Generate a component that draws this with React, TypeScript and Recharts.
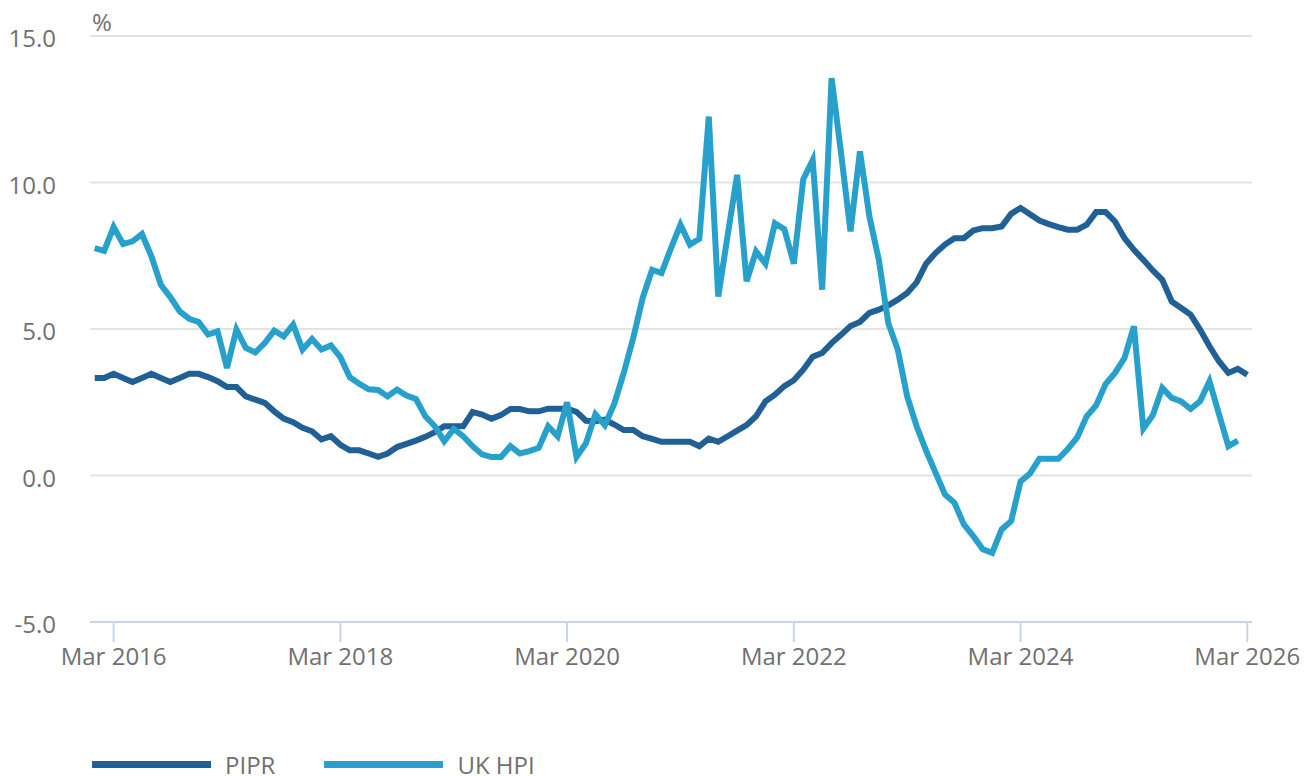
import { LineChart, Line, XAxis, YAxis, CartesianGrid, Legend } from "recharts";

// monthly, Jan 2016 onwards
const PIPR = [
    3.33, 3.33, 3.47, 3.33, 3.19, 3.33, 3.47, 3.33, 3.19, 3.33, 3.47, 3.47,
    3.36, 3.22, 3.02, 3.02, 2.7, 2.59, 2.48, 2.19, 1.94, 1.82, 1.63, 1.51,
    1.23, 1.34, 1.05, 0.86, 0.86, 0.75, 0.64, 0.75, 0.97, 1.08, 1.19, 1.32,
    1.48, 1.68, 1.68, 1.68, 2.17, 2.08, 1.94, 2.06, 2.27, 2.27, 2.19, 2.19,
    2.28, 2.28, 2.28, 2.17, 1.87, 1.85, 1.91, 1.74, 1.55, 1.55, 1.34, 1.25,
    1.15, 1.15, 1.15, 1.15, 1.0, 1.26, 1.15, 1.34, 1.53, 1.72, 2.02, 2.53,
    2.76, 3.05, 3.25, 3.61, 4.05, 4.18, 4.52, 4.8, 5.1, 5.24, 5.55, 5.66,
    5.81, 6.0, 6.23, 6.59, 7.23, 7.59, 7.88, 8.1, 8.1, 8.36, 8.44, 8.44,
    8.5, 8.93, 9.13, 8.92, 8.7, 8.58, 8.48, 8.39, 8.39, 8.56, 8.99, 8.99,
    8.67, 8.1, 7.7, 7.36, 7.0, 6.68, 5.94, 5.72, 5.49, 4.98, 4.41, 3.9,
    3.5, 3.64, 3.44,
];

const UK_HPI = [
    7.76, 7.67, 8.48, 7.9, 7.99, 8.24, 7.48, 6.51, 6.09, 5.6, 5.35, 5.24,
    4.81, 4.92, 3.67, 4.98, 4.35, 4.2, 4.52, 4.94, 4.75, 5.15, 4.3, 4.66,
    4.3, 4.44, 4.04, 3.35, 3.13, 2.94, 2.92, 2.7, 2.93, 2.73, 2.61, 2.02,
    1.68, 1.17, 1.59, 1.34, 1.0, 0.72, 0.63, 0.63, 1.0, 0.75, 0.83, 0.94,
    1.68, 1.34, 2.5, 0.63, 1.1, 2.09, 1.72, 2.45, 3.5, 4.69, 6.06, 7.02,
    6.91, 7.76, 8.56, 7.88, 8.08, 12.25, 6.11, 8.2, 10.26, 6.63, 7.65, 7.23,
    8.61, 8.41, 7.23, 10.11, 10.77, 6.34, 13.56, 11.0, 8.33, 11.06, 8.84, 7.36,
    5.2, 4.3, 2.7, 1.68, 0.85, 0.1, -0.65, -0.93, -1.67, -2.07, -2.52, -2.64,
    -1.84, -1.56, -0.2, 0.07, 0.57, 0.57, 0.57, 0.9, 1.3, 2.02, 2.39, 3.12,
    3.5, 4.01, 5.09, 1.6, 2.06, 2.99, 2.65, 2.53, 2.27, 2.53, 3.22, 2.1,
    1.0, 1.19,
];

const X_TICKS = [2, 26, 50, 74, 98, 122];
const X_TICK_LABELS = ["Mar 2016", "Mar 2018", "Mar 2020", "Mar 2022", "Mar 2024", "Mar 2026"];
const Y_TICKS = [-5, 0, 5, 10, 15];

const SERIES = [
    { key: "pipr", name: "PIPR", color: "#206095" },
    { key: "hpi", name: "UK HPI", color: "#27a0cc" },
];

const FONT = "'Open Sans', sans-serif";
const TEXT = "#707071";

const data = PIPR.map((v, i) => ({
    i,
    pipr: v,
    hpi: i < UK_HPI.length ? UK_HPI[i] : null,
}));

function XTick(props: any) {
    const { x, y, payload } = props;
    const idx = X_TICKS.indexOf(payload.value);
    return (
        <text x={x} y={y + 23} textAnchor="middle" fill={TEXT} fontSize={24} fontFamily={FONT}>
            {X_TICK_LABELS[idx]}
        </text>
    );
}

function YTick(props: any) {
    const { x, y, payload } = props;
    return (
        <text x={x} y={y + 11} textAnchor="end" fill={TEXT} fontSize={24} fontFamily={FONT}>
            {payload.value.toFixed(1)}
        </text>
    );
}

function LegendContent() {
    return (
        <div style={{ display: "flex", alignItems: "center", fontFamily: FONT, fontSize: 24, color: TEXT }}>
            {SERIES.map((s) => (
                <div key={s.key} style={{ display: "flex", alignItems: "center", marginRight: 49 }}>
                    <div style={{ width: 119, height: 7, background: s.color, marginRight: 14 }} />
                    <span>{s.name}</span>
                </div>
            ))}
        </div>
    );
}

export default function App() {
    return (
        <div style={{ position: "absolute", left: 0, top: 0, width: 1314, height: 776, background: "#fff" }}>
            <div style={{ position: "absolute", left: 92, top: 5, fontFamily: FONT, fontSize: 24, color: TEXT }}>%</div>
            <LineChart width={1314} height={776} data={data} margin={{ top: 36, right: 62, left: 0, bottom: 114 }}>
                <CartesianGrid vertical={false} stroke="#e3e3e3" strokeWidth={2} />
                <XAxis
                    dataKey="i"
                    type="number"
                    domain={[-0.5, 122.5]}
                    ticks={X_TICKS}
                    interval={0}
                    height={40}
                    tickSize={20}
                    tickMargin={0}
                    axisLine={{ stroke: "#c9d4e8", strokeWidth: 2 }}
                    tickLine={{ stroke: "#c9d4e8", strokeWidth: 2 }}
                    tick={<XTick />}
                />
                <YAxis
                    type="number"
                    domain={[-5, 15]}
                    ticks={Y_TICKS}
                    interval={0}
                    width={90}
                    tickSize={0}
                    tickMargin={34}
                    axisLine={false}
                    tickLine={false}
                    tick={<YTick />}
                />
                <Legend
                    layout="horizontal"
                    verticalAlign="middle"
                    align="center"
                    content={<LegendContent />}
                    wrapperStyle={{ left: 92, top: 748, bottom: "auto", width: 800 }}
                />
                {SERIES.map((s) => (
                    <Line
                        key={s.key}
                        type="linear"
                        dataKey={s.key}
                        name={s.name}
                        stroke={s.color}
                        strokeWidth={6}
                        dot={false}
                        activeDot={false}
                        isAnimationActive={false}
                    />
                ))}
            </LineChart>
        </div>
    );
}
